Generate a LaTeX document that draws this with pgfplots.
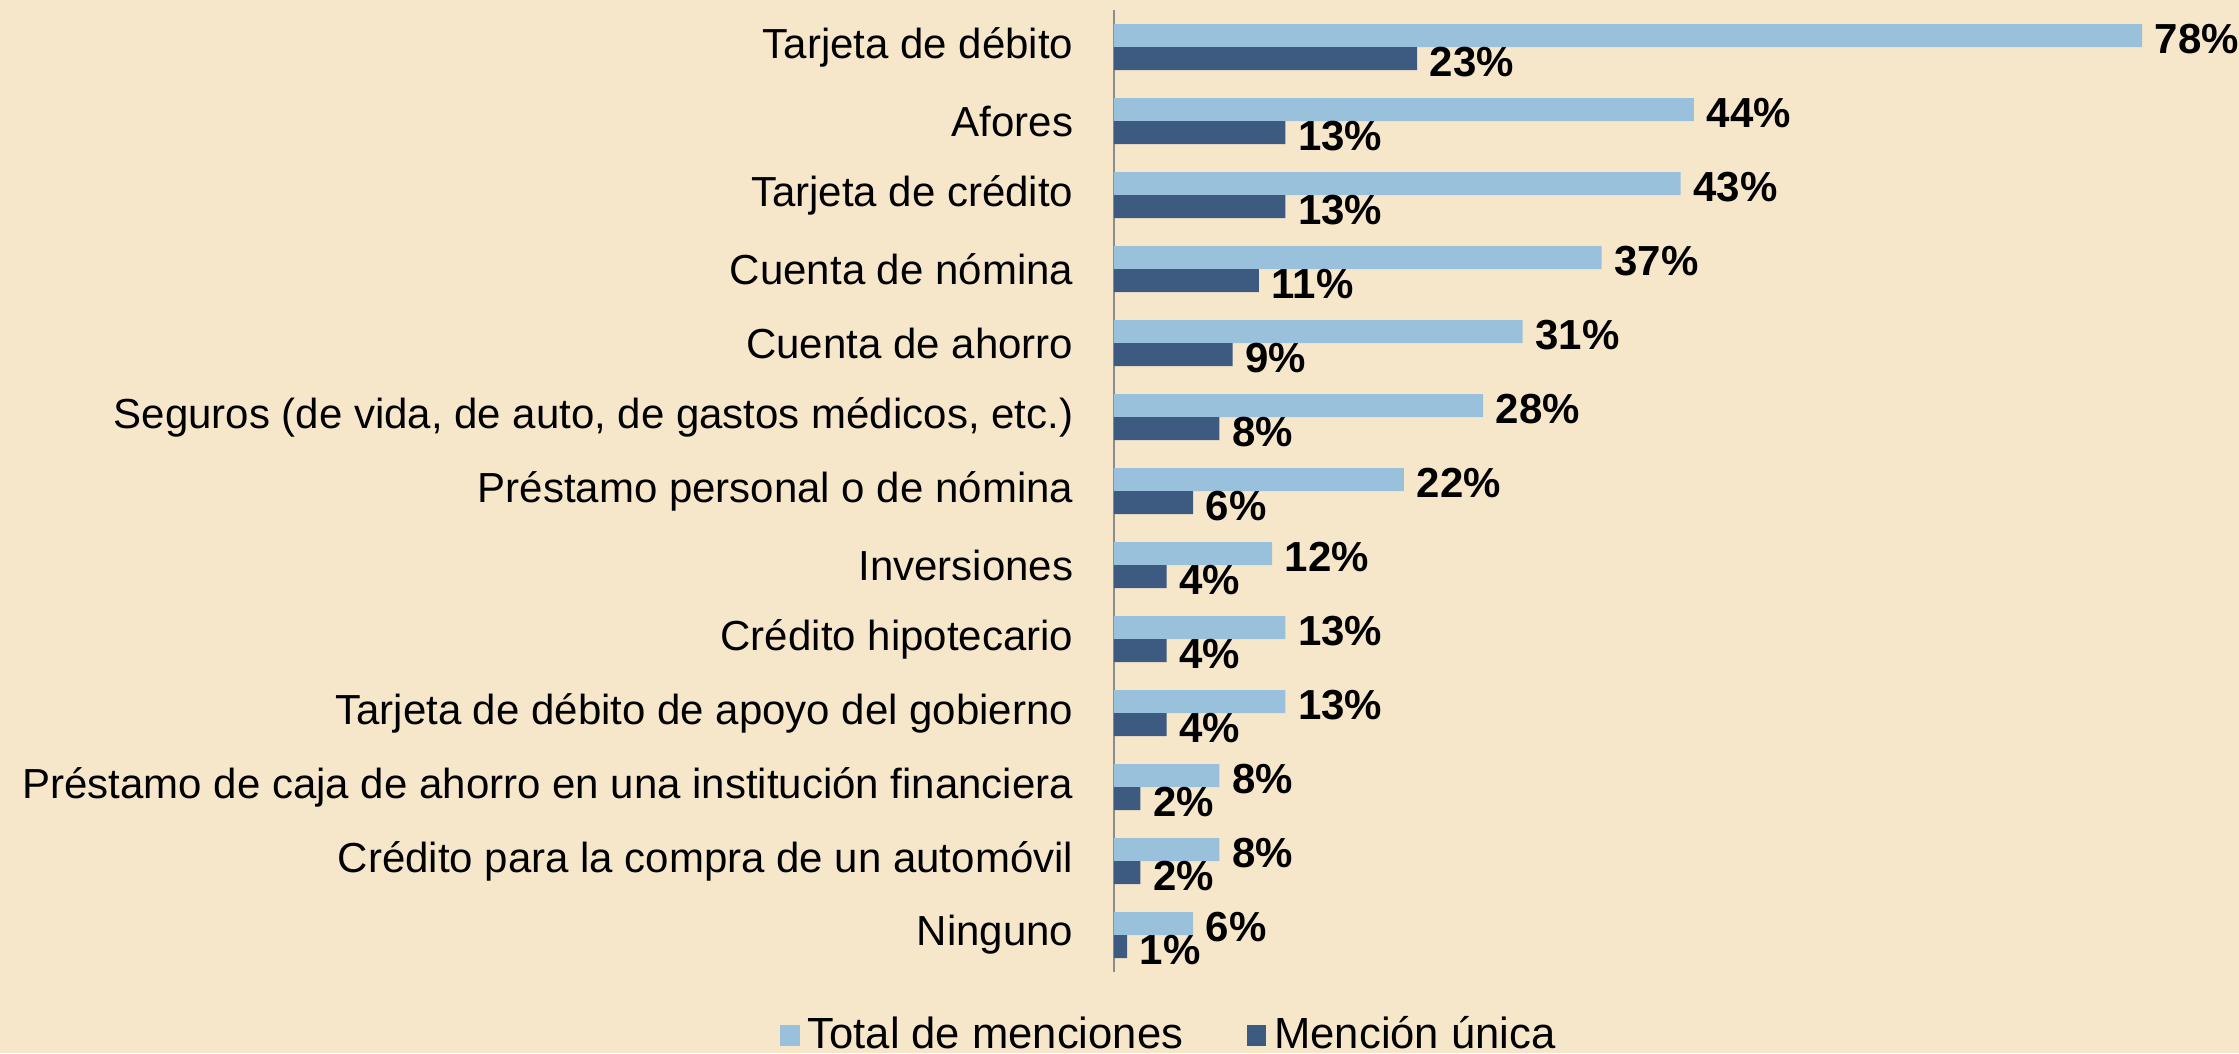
\documentclass[border=0pt]{standalone}
\usepackage{fontspec}
\setmainfont{Liberation Sans}
\usepackage{pgfplots}
\pgfplotsset{compat=1.18}
\definecolor{bgc}{HTML}{F7E7CA}
\definecolor{lightb}{HTML}{9AC1DC}
\definecolor{darkb}{HTML}{3D5A80}
\begin{document}
\begin{tikzpicture}
\useasboundingbox[fill=bgc] (0,0) rectangle (559.75pt,263.25pt);
\begin{axis}[
  at={(278.5pt,20.25pt)}, anchor=south west,
  scale only axis, width=263.6pt, height=240.5pt,
  xmin=0, xmax=80, ymin=-0.5, ymax=12.5, y dir=reverse,
  clip=false,
  axis x line=none, axis y line=left,
  y axis line style={-, draw=gray!90, line width=0.5pt},
  major tick length=0pt,
  ytick={0,...,12},
  yticklabels={{Tarjeta de débito},{Afores},{Tarjeta de crédito},{Cuenta de nómina},{Cuenta de ahorro},{Seguros (de vida, de auto, de gastos médicos, etc.)},{Préstamo personal o de nómina},{Inversiones},{Crédito hipotecario},{Tarjeta de débito de apoyo del gobierno},{Préstamo de caja de ahorro en una institución financiera},{Crédito para la compra de un automóvil},{Ninguno}},
  yticklabel style={font=\fontsize{10.5}{12}\selectfont, inner sep=0pt, xshift=-10pt},
  xbar, bar width=5.75pt,
  /pgf/number format/assume math mode=true,
  point meta=x,
  nodes near coords={\pgfmathprintnumber{\pgfplotspointmeta}\%},
  nodes near coords style={font=\bfseries\fontsize{10.5}{12}\selectfont, anchor=west, inner sep=3pt, black, yshift=-0.8pt},
  legend columns=2,
  legend style={at={(0.055,-0.066)}, anchor=center, draw=none, fill=none, font=\fontsize{10.9}{12}\selectfont, /tikz/every even column/.append style={column sep=14pt}},
  legend image code/.code={\fill[#1] (0pt,-2.6pt) rectangle (4.8pt,2.6pt);},
]
\addplot[fill=lightb, draw=none, bar shift=2.875pt] coordinates {(78,0) (44,1) (43,2) (37,3) (31,4) (28,5) (22,6) (12,7) (13,8) (13,9) (8,10) (8,11) (6,12)};
\addlegendentry{Total de menciones}
\addplot[fill=darkb, draw=none, bar shift=-2.875pt] coordinates {(23,0) (13,1) (13,2) (11,3) (9,4) (8,5) (6,6) (4,7) (4,8) (4,9) (2,10) (2,11) (1,12)};
\addlegendentry{Mención única}
\end{axis}
\end{tikzpicture}
\end{document}
